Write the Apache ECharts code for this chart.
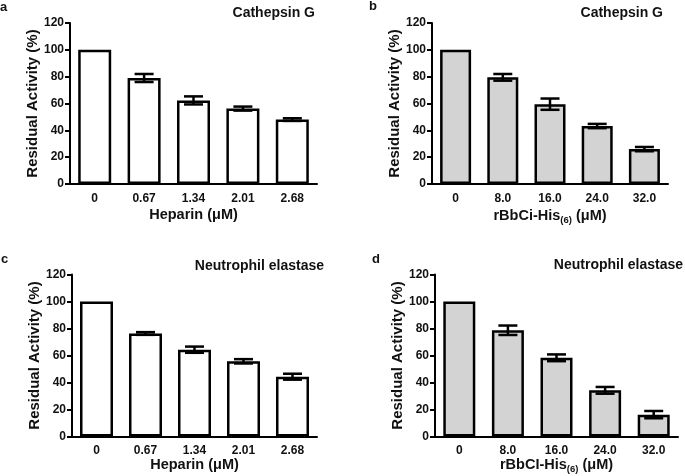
<!DOCTYPE html>
<html><head><meta charset="utf-8">
<script src="https://cdn.jsdelivr.net/npm/echarts@6/dist/echarts.min.js"></script>
<style>html,body{margin:0;padding:0;background:#fff}#c{width:685px;height:476px}</style>
</head><body><div id="c"></div>
<script>
// ---- data ----
const heparinCats = ['0', '0.67', '1.34', '2.01', '2.68'];
const rbbciCats = ['0', '8.0', '16.0', '24.0', '32.0'];
const yTicks = [0, 20, 40, 60, 80, 100, 120];

const aMean = [100, 79, 62.3, 56.2, 48];
const aErr  = [0, 3, 3, 1.5, 1];
const bMean = [100, 79.5, 59.5, 43.2, 26];
const bErr  = [0, 2.5, 4.2, 1.6, 1.6];
const cMean = [100, 76.3, 64.3, 55.7, 44.3];
const cErr  = [0, 1, 2.3, 1.6, 2.2];
const dMean = [100, 78.7, 58.3, 34.2, 16.2];
const dErr  = [0, 3.5, 2.5, 2.5, 2.7];

const panels = [
  {letter:'a', title:'Cathepsin G', cats:heparinCats, mean:aMean, err:aErr, fill:'#ffffff', xname:'Heparin (μM)'},
  {letter:'b', title:'Cathepsin G', cats:rbbciCats, mean:bMean, err:bErr, fill:'#d3d3d3', xname:'rBbCi-His{sub|(6)} (μM)'},
  {letter:'c', title:'Neutrophil elastase', cats:heparinCats, mean:cMean, err:cErr, fill:'#ffffff', xname:'Heparin (μM)'},
  {letter:'d', title:'Neutrophil elastase', cats:rbbciCats, mean:dMean, err:dErr, fill:'#d3d3d3', xname:'rBbCI-His{sub|(6)} (μM)'}
];

// ---- layout ----
const grids = [
  {left:70, top:23, width:247, height:161},
  {left:432, top:23, width:236, height:161},
  {left:72, top:274.5, width:245, height:162},
  {left:435, top:274.5, width:243, height:162}
];
const barWidths = [33, 31, 33, 32];
const titlePos = [
  {right:370, top:6}, {right:22, top:6}, {right:361, top:259}, {right:2, top:258}
];
const letterPos = [
  {left:0, top:1}, {left:369, top:0}, {left:1, top:253}, {left:372, top:253}
];
const yNameGaps = [32, 31, 33, 32];
const xNameGaps = [23, 23, 20, 16];
const xLabelMargins = [9, 9, 8, 8];

const FONT = '"Liberation Sans", Arial, sans-serif';
const option = {
  animation:false,
  textStyle:{fontFamily:FONT},
  title:[], grid:[], xAxis:[], yAxis:[], series:[]
};

panels.forEach((p, i) => {
  option.title.push({text:p.title, ...titlePos[i], padding:0, textStyle:{fontFamily:FONT, fontWeight:'bold', fontSize:14, color:'#111'}});
  option.title.push({text:p.letter, ...letterPos[i], padding:0, textStyle:{fontFamily:FONT, fontWeight:'bold', fontSize:13, color:'#111'}});
  option.grid.push(Object.assign({outerBoundsMode:'none', containLabel:false}, grids[i]));
  option.xAxis.push({
    type:'category', gridIndex:i, data:p.cats,
    axisLine:{lineStyle:{color:'#000', width:2}},
    axisTick:{show:false},
    axisLabel:{color:'#111', fontWeight:'bold', fontSize:12, fontFamily:FONT, margin:xLabelMargins[i]},
    name:p.xname, nameLocation:'middle', nameGap:xNameGaps[i],
    nameTextStyle:{color:'#111', fontWeight:'bold', fontSize:14.5, fontFamily:FONT,
      rich:{sub:{fontSize:9.5, fontWeight:'bold', fontFamily:FONT, color:'#111', padding:[8,0,0,0]}}}
  });
  option.yAxis.push({
    type:'value', gridIndex:i, min:yTicks[0], max:yTicks[yTicks.length-1], interval:yTicks[1]-yTicks[0],
    axisLine:{show:true, lineStyle:{color:'#000', width:2}},
    axisTick:{show:true, length:5, lineStyle:{color:'#000', width:2}},
    splitLine:{show:false},
    axisLabel:{color:'#111', fontWeight:'bold', fontSize:12, fontFamily:FONT, margin:6},
    name:'Residual Activity (%)', nameLocation:'middle', nameGap:yNameGaps[i] - 3,
    nameTextStyle:{color:'#111', fontWeight:'bold', fontSize:15, fontFamily:FONT}
  });
  option.series.push({
    type:'bar', xAxisIndex:i, yAxisIndex:i, data:p.mean, barWidth:barWidths[i],
    itemStyle:{color:p.fill, borderColor:'#000', borderWidth:2.5}
  });
  const errData = p.mean.map((m, k) => [k, m - p.err[k], m + p.err[k]]);
  option.series.push({
    type:'custom', xAxisIndex:i, yAxisIndex:i, data:errData, z:10,
    renderItem:function(params, api){
      const x = api.value(0);
      if (api.value(2) - api.value(1) <= 0) return null;
      const lo = api.coord([x, api.value(1)]);
      const hi = api.coord([x, api.value(2)]);
      const hw = 9.5;
      const st = {stroke:'#000', lineWidth:2.5};
      return {type:'group', children:[
        {type:'line', shape:{x1:lo[0], y1:lo[1], x2:hi[0], y2:hi[1]}, style:st},
        {type:'line', shape:{x1:lo[0]-hw, y1:lo[1], x2:lo[0]+hw, y2:lo[1]}, style:st},
        {type:'line', shape:{x1:hi[0]-hw, y1:hi[1], x2:hi[0]+hw, y2:hi[1]}, style:st}
      ]};
    }
  });
});

const chart = echarts.init(document.getElementById('c'), null, {renderer:'canvas'});
chart.setOption(option);
</script>
</body></html>
